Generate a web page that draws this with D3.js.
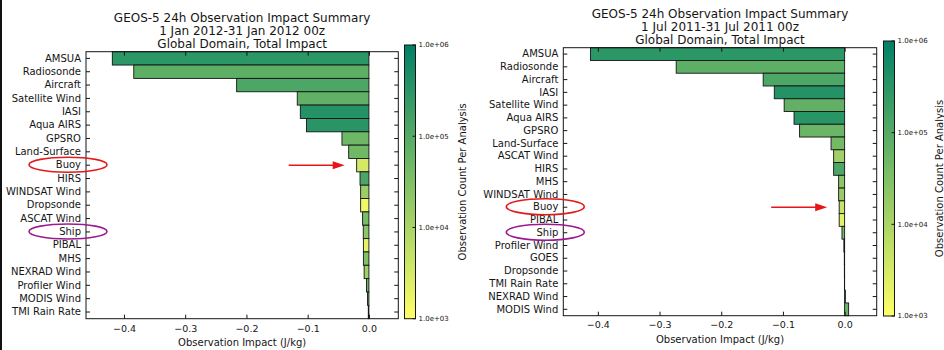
<!DOCTYPE html>
<html>
<head>
<meta charset="utf-8">
<script src="https://cdn.jsdelivr.net/npm/d3@7"></script>
<style>
  body { margin: 0; background: #fff; }
  svg { display: block; font-family: "DejaVu Sans", sans-serif; }
</style>
</head>
<body>
<svg id="chart" width="944" height="350"></svg>
<script>
// ---- January 2012 summary ----
const janTitle = ["GEOS-5 24h Observation Impact Summary", "1 Jan 2012-31 Jan 2012 00z", "Global Domain, Total Impact"];
const janCategories = ["AMSUA", "Radiosonde", "Aircraft", "Satellite Wind", "IASI", "Aqua AIRS", "GPSRO",
  "Land-Surface", "Buoy", "HIRS", "WINDSAT Wind", "Dropsonde", "ASCAT Wind", "Ship", "PIBAL", "MHS",
  "NEXRAD Wind", "Profiler Wind", "MODIS Wind", "TMI Rain Rate"];
const janImpact = [-0.419, -0.384, -0.216, -0.117, -0.112, -0.102, -0.044,
  -0.033, -0.020, -0.0145, -0.0135, -0.0135, -0.0103, -0.0092, -0.009, -0.009,
  -0.0078, -0.004, -0.0022, -0.001];
const janCount = [309000, 77600, 126000, 72400, 380000, 331000, 51300,
  47900, 3200, 135000, 14800, 1500, 38900, 22400, 2000, 31600,
  12900, 55000, 89000, 63000];

// ---- July 2011 summary ----
const julTitle = ["GEOS-5 24h Observation Impact Summary", "1 Jul 2011-31 Jul 2011 00z", "Global Domain, Total Impact"];
const julCategories = ["AMSUA", "Radiosonde", "Aircraft", "IASI", "Satellite Wind", "Aqua AIRS", "GPSRO",
  "Land-Surface", "ASCAT Wind", "HIRS", "MHS", "WINDSAT Wind", "Buoy", "PIBAL", "Ship",
  "Profiler Wind", "GOES", "Dropsonde", "TMI Rain Rate", "NEXRAD Wind", "MODIS Wind"];
const julImpact = [-0.412, -0.273, -0.132, -0.114, -0.098, -0.082, -0.073,
  -0.022, -0.0178, -0.0178, -0.0097, -0.0097, -0.0088, -0.0088, -0.0043,
  -0.0012, -0.0005, -0.0004, -0.0003, 0.0012, 0.0065];
const julCount = [309000, 77600, 126000, 380000, 72400, 331000, 55000,
  44000, 12900, 126000, 22400, 15800, 4500, 2200, 38900,
  55000, 50000, 40000, 60000, 500000, 63000];

// ---- shared axis text ----
const impactTicks = [-0.4, -0.3, -0.2, -0.1, 0.0];
const countTicks = [1e3, 1e4, 1e5, 1e6];
const impactAxisTitle = "Observation Impact (J/kg)";
const countAxisTitle = "Observation Count Per Analysis";
const circledRed = "Buoy";
const circledPurple = "Ship";

const svg = d3.select("#chart");
const ink = "#151515";

// summer_r: dark green for large counts, yellow for small ones (log scale)
const countColor = d3.scaleLog().domain([1e6, 1e3])
  .range(["#008066", "#ffff66"]).interpolate(d3.interpolateRgb).clamp(true);

// thin dark edge along the left side of the graphic
svg.append("rect").attr("x", 0).attr("y", 0).attr("width", 2).attr("height", 350).attr("fill", "#111");

const defs = svg.append("defs");
const grad = defs.append("linearGradient").attr("id", "cbgrad")
  .attr("x1", 0).attr("y1", 0).attr("x2", 0).attr("y2", 1);
d3.range(0, 1.0001, 0.1).forEach(f => {
  grad.append("stop").attr("offset", f).attr("stop-color", countColor(Math.pow(10, 6 - 3 * f)));
});

function drawPanel(cfg) {
  const { categories, impact, count, title } = cfg;
  const x = d3.scaleLinear().domain(cfg.domain).range([cfg.left, cfg.right]);
  const y = d3.scaleBand().domain(categories).range([cfg.top, cfg.bottom]).padding(0);
  const g = svg.append("g");

  // bars
  g.append("g").selectAll("rect").data(categories).join("rect")
    .attr("x", (d, i) => x(Math.min(impact[i], 0)))
    .attr("width", (d, i) => Math.abs(x(impact[i]) - x(0)))
    .attr("y", d => y(d))
    .attr("height", y.bandwidth())
    .attr("fill", (d, i) => countColor(count[i]))
    .attr("stroke", ink).attr("stroke-width", 0.9);

  // frame
  g.append("rect").attr("x", cfg.left).attr("y", cfg.top)
    .attr("width", cfg.right - cfg.left).attr("height", cfg.bottom - cfg.top)
    .attr("fill", "none").attr("stroke", ink).attr("stroke-width", 1);

  const fmt = d3.format(".1f");
  const styleAxis = sel => {
    sel.select(".domain").remove();
    sel.selectAll(".tick line").attr("stroke", ink);
    sel.selectAll("text").attr("fill", ink);
  };

  g.append("g").attr("transform", `translate(0,${cfg.bottom})`)
    .call(d3.axisBottom(x).tickValues(impactTicks).tickSize(-4).tickPadding(cfg.xPad).tickFormat(fmt))
    .attr("font-size", 9.5).attr("font-family", null).call(styleAxis);
  g.append("g").attr("transform", `translate(0,${cfg.top})`)
    .call(d3.axisTop(x).tickValues(impactTicks).tickSize(-4).tickFormat(""))
    .call(styleAxis);
  g.append("g").attr("transform", `translate(${cfg.left},0)`)
    .call(d3.axisLeft(y).tickSize(-4).tickPadding(5))
    .attr("font-size", 10).attr("font-family", null).call(styleAxis);
  g.append("g").attr("transform", `translate(${cfg.right},0)`)
    .call(d3.axisRight(y).tickSize(-4).tickFormat(""))
    .call(styleAxis);

  // titles
  const cx = (cfg.left + cfg.right) / 2;
  title.forEach((t, i) => {
    g.append("text").attr("x", cx).attr("y", cfg.titleY[i]).attr("text-anchor", "middle")
      .attr("font-size", 12).attr("fill", ink).text(t);
  });
  g.append("text").attr("x", cx).attr("y", cfg.xTitleY).attr("text-anchor", "middle")
    .attr("font-size", 10).attr("fill", ink).text(impactAxisTitle);

  // colour bar
  const cb = d3.scaleLog().domain([1e3, 1e6]).range([cfg.cbBottom, cfg.cbTop]);
  g.append("rect").attr("x", cfg.cbLeft).attr("y", cfg.cbTop)
    .attr("width", cfg.cbWidth).attr("height", cfg.cbBottom - cfg.cbTop)
    .attr("fill", "url(#cbgrad)").attr("stroke", ink).attr("stroke-width", 1);
  const cbRight = cfg.cbLeft + cfg.cbWidth;
  const cbt = g.append("g").selectAll("g").data(countTicks).join("g")
    .attr("transform", d => `translate(${cbRight},${cb(d)})`);
  cbt.append("line").attr("x1", -3).attr("x2", 0).attr("stroke", ink);
  cbt.append("text").attr("x", 3).attr("dy", "0.35em").attr("font-size", 7).attr("fill", ink)
    .text(d => "1.0e+" + String(Math.round(Math.log10(d))).padStart(2, "0"));
  g.append("text")
    .attr("transform", `translate(${cfg.cbTitleX},${(cfg.cbTop + cfg.cbBottom) / 2}) rotate(-90)`)
    .attr("text-anchor", "middle").attr("dy", "0.35em")
    .attr("font-size", 10).attr("fill", ink).text(countAxisTitle);

  // highlight the Buoy and Ship rows
  const ell = (name, color) => g.append("ellipse")
    .attr("cx", cfg.left - 18).attr("cy", y(name) + y.bandwidth() / 2 - 0.5)
    .attr("rx", 39).attr("ry", cfg.ellRy)
    .attr("fill", "none").attr("stroke", color).attr("stroke-width", 1.6);
  ell(circledRed, "#e3191c");
  ell(circledPurple, "#9b1a8e");

  // arrow pointing at the Buoy bar
  const bi = categories.indexOf(circledRed);
  const tipX = x(impact[bi]) - 12;
  const ay = y(circledRed) + y.bandwidth() / 2;
  g.append("line").attr("x1", tipX - 56).attr("x2", tipX - 10).attr("y1", ay).attr("y2", ay)
    .attr("stroke", "#e8141a").attr("stroke-width", 1.5);
  g.append("path")
    .attr("d", `M${tipX},${ay} L${tipX - 12},${ay - 4} L${tipX - 12},${ay + 4} Z`)
    .attr("fill", "#e8141a");
}

drawPanel({
  categories: janCategories, impact: janImpact, count: janCount, title: janTitle,
  domain: [-0.462, 0.048], left: 86, right: 398.3, top: 51.7, bottom: 318.7,
  xPad: 6.5, titleY: [21.5, 35, 47.5], xTitleY: 346,
  cbLeft: 404.5, cbWidth: 11, cbTop: 45, cbBottom: 318.7, cbTitleX: 462.5, ellRy: 7.5
});

drawPanel({
  categories: julCategories, impact: julImpact, count: julCount, title: julTitle,
  domain: [-0.456, 0.052], left: 563.3, right: 876.7, top: 47.7, bottom: 315.7,
  xPad: 6, titleY: [18, 30.5, 43.5], xTitleY: 342.5,
  cbLeft: 883.5, cbWidth: 11, cbTop: 41, cbBottom: 316, cbTitleX: 939.5, ellRy: 8
});
</script>
</body>
</html>
